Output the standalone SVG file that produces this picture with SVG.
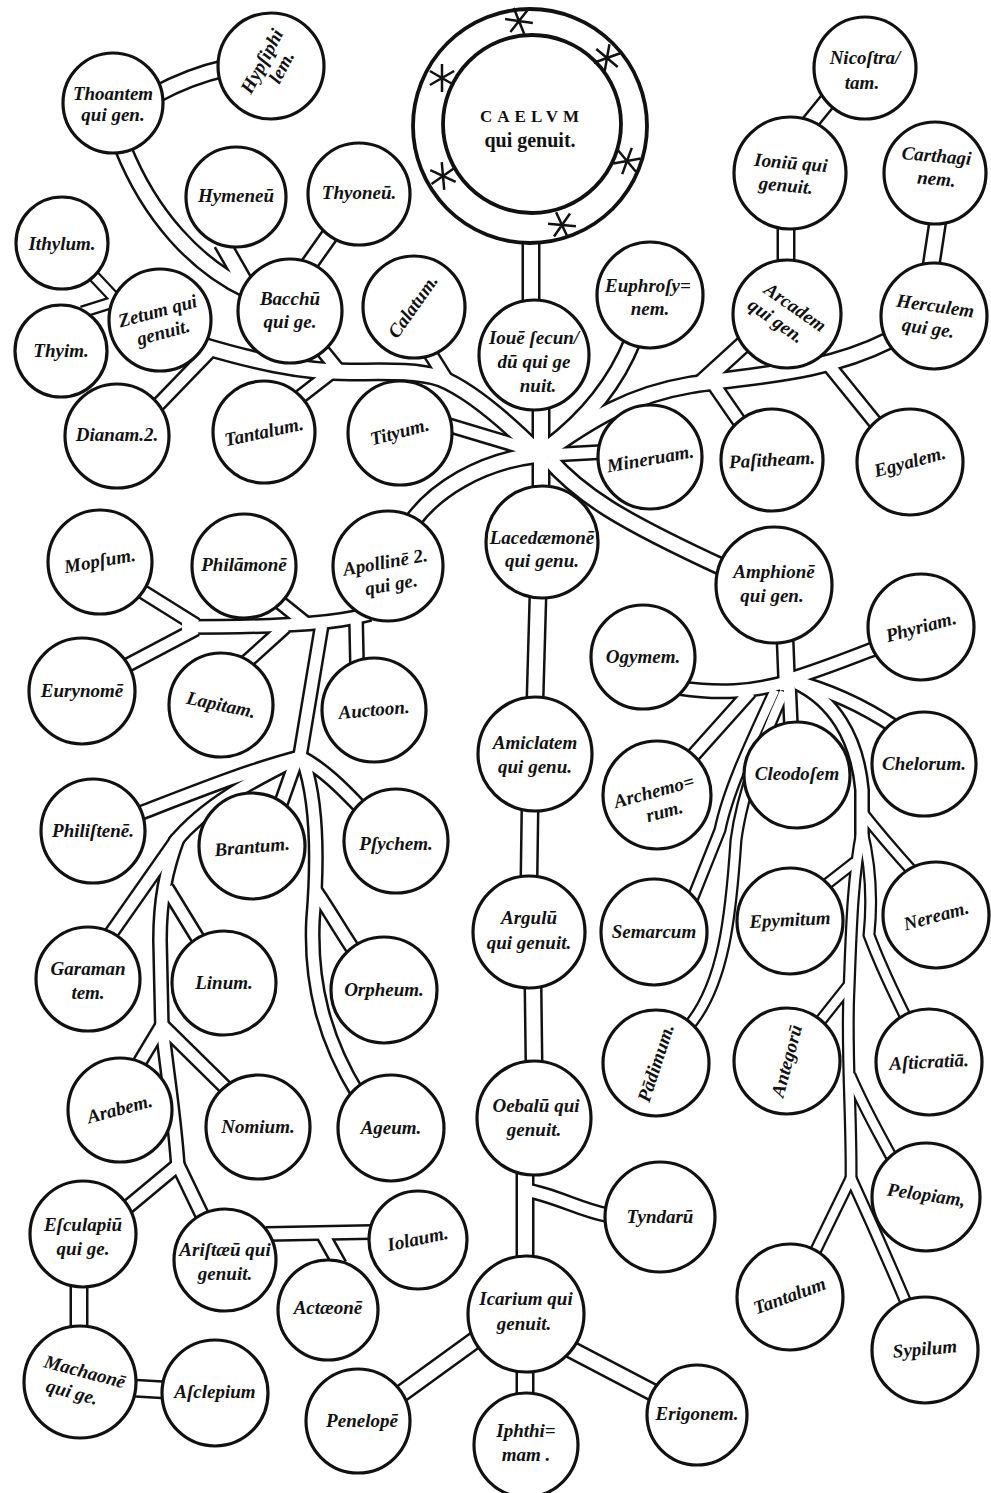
<svg xmlns="http://www.w3.org/2000/svg" width="991" height="1493" viewBox="0 0 991 1493">
<style>
.c{fill:#fff;stroke:#111;stroke-width:3.2}
.cc{fill:#fff;stroke:#111;stroke-width:3.8}
.oN{fill:none;stroke:#111;stroke-width:19}
.iN{fill:none;stroke:#fff;stroke-width:14}
.oM{fill:none;stroke:#111;stroke-width:16}
.iM{fill:none;stroke:#fff;stroke-width:11}
.oT{fill:none;stroke:#111;stroke-width:13}
.iT{fill:none;stroke:#fff;stroke-width:8.5}
.star{fill:none;stroke:#111;stroke-width:2.5}
.t{font-family:"Liberation Serif","DejaVu Serif",serif;font-style:italic;font-weight:bold;font-size:19px;text-anchor:middle;fill:#111}
.r{font-family:"Liberation Serif","DejaVu Serif",serif;font-weight:bold;text-anchor:middle;fill:#111}
</style>
<defs>
<g id="tN">
<path d="M155 95 Q190 76 226 68"/>
<path d="M531 238 L531 305"/>
<path d="M808 125 L830 98"/>
<path d="M786 226 L786 264"/>
<path d="M938 220 L931 266"/>
<path d="M541 405 L541 492"/>
<path d="M200 345 C250 360 300 372 350 372 C380 372 415 370 440 378 C470 390 505 420 540 455"/>
<path d="M123 148 C150 215 195 265 248 290"/>
<path d="M222 243 L250 292"/>
<path d="M332 232 L308 266"/>
<path d="M633 340 C615 385 585 420 548 448"/>
<path d="M545 452 C590 420 630 395 690 385 C750 375 820 375 890 340"/>
<path d="M746 342 L700 384"/>
<path d="M548 458 C580 495 620 520 724 568"/>
<path d="M412 522 C435 490 480 462 535 455"/>
<path d="M538 594 L535 700"/>
<path d="M530 808 L529 878"/>
<path d="M533 985 L534 1065"/>
<path d="M525 1172 L525 1260"/>
<path d="M478 1338 L398 1396"/>
<path d="M525 1366 L525 1396"/>
<path d="M568 1348 L654 1393"/>
<path d="M79 1283 L79 1328"/>
<path d="M132 1388 L166 1390"/>
<path d="M785 638 L787 690"/>
</g>
<g id="tM">
<path d="M318 345 L340 372"/>
<path d="M296 400 L332 372"/>
<path d="M155 408 L212 349"/>
<path d="M428 350 L448 382"/>
<path d="M448 425 L538 452"/>
<path d="M712 382 L741 424"/>
<path d="M827 363 L878 426"/>
<path d="M548 455 L602 452"/>
<path d="M525 1190 C555 1195 580 1210 607 1215"/>
<path d="M370 614 C340 622 300 627 182 627"/>
<path d="M140 590 L196 625"/>
<path d="M124 667 L196 629"/>
<path d="M277 600 L308 625"/>
<path d="M244 664 L285 627"/>
<path d="M356 618 L357 665"/>
<path d="M322 624 L299 762"/>
<path d="M300 757 C250 770 200 790 138 814"/>
<path d="M300 757 C250 782 205 805 174 843"/>
<path d="M178 838 L110 935"/>
<path d="M178 838 C166 870 160 900 160 940 L162 1030"/>
<path d="M167 888 L200 942"/>
<path d="M162 1025 L138 1065"/>
<path d="M162 1025 L228 1090"/>
<path d="M162 1025 C168 1080 175 1120 178 1168"/>
<path d="M178 1165 L124 1210"/>
<path d="M178 1165 L203 1217"/>
<path d="M266 1234 L372 1232"/>
<path d="M322 1233 L340 1265"/>
<path d="M297 758 L280 806"/>
<path d="M300 757 C322 768 342 788 361 808"/>
<path d="M302 757 C318 800 318 860 313 920 C310 985 325 1040 358 1094"/>
<path d="M315 890 C326 905 340 930 355 952"/>
<path d="M787 680 C820 670 845 660 876 648"/>
<path d="M787 682 C750 692 720 694 680 688"/>
<path d="M750 692 L690 759"/>
<path d="M789 682 L791 726"/>
<path d="M790 680 C830 690 862 705 895 727"/>
<path d="M797 683 C832 700 857 735 862 790 L862 838"/>
</g>
<g id="tT">
<path d="M90 272 L120 304"/>
<path d="M82 312 L120 300"/>
<path d="M775 690 C752 740 728 790 720 830 L692 900"/>
<path d="M784 692 C760 745 742 795 736 840 C731 915 724 985 688 1027"/>
<path d="M862 830 C852 880 851 940 849 990 C846 1050 852 1120 851 1182"/>
<path d="M862 830 C872 870 872 905 869 935 C882 970 895 995 907 1020"/>
<path d="M855 862 L823 887"/>
<path d="M849 985 L818 1024"/>
<path d="M862 812 C880 835 895 852 913 872"/>
<path d="M850 1075 C865 1110 880 1135 893 1160"/>
<path d="M851 1178 L814 1254"/>
<path d="M851 1178 C868 1215 888 1260 907 1305"/>
</g>
<path id="star" d="M-14 0H14M-7 -12.1L7 12.1M-7 12.1L7 -12.1"/>
</defs>
<rect width="991" height="1493" fill="#fff"/>
<g id="connectors">
<use href="#tN" class="oN"/>
<use href="#tM" class="oM"/>
<use href="#tT" class="oT"/>
<use href="#tN" class="iN"/>
<use href="#tM" class="iM"/>
<use href="#tT" class="iT"/>
</g>
<g id="n-caelum">
<circle class="cc" cx="530" cy="126" r="117"/>
<circle class="cc" cx="532" cy="124" r="89"/>
<use href="#star" class="star" transform="translate(519 21) rotate(8)"/>
<use href="#star" class="star" transform="translate(607 58) rotate(-20)"/>
<use href="#star" class="star" transform="translate(442 78) rotate(30)"/>
<use href="#star" class="star" transform="translate(627 161) rotate(-10)"/>
<use href="#star" class="star" transform="translate(443 176) rotate(25)"/>
<use href="#star" class="star" transform="translate(562 225) rotate(5)"/>
<text class="r" x="532" y="122" font-size="17" letter-spacing="5">CAELVM</text>
<text class="r" x="530" y="147" font-size="20" font-weight="normal">qui genuit.</text>
</g>
<g id="n-hypsiphile"><circle class="c" cx="271" cy="66" r="53"/><text class="t" transform="rotate(-62 271 66)"><tspan x="271" y="62">Hypſiphi</tspan><tspan x="275" y="82">lem.</tspan></text></g>
<g id="n-thoantem"><circle class="c" cx="113" cy="103" r="50"/><text class="t"><tspan x="113" y="100">Thoantem</tspan><tspan x="113" y="121">qui gen.</tspan></text></g>
<g id="n-hymeneus"><circle class="c" cx="236" cy="197" r="50"/><text class="t" x="236" y="202">Hymeneū</text></g>
<g id="n-thyoneus"><circle class="c" cx="359" cy="194" r="51"/><text class="t" x="359" y="199">Thyoneū.</text></g>
<g id="n-ithylus"><circle class="c" cx="62" cy="243" r="46"/><text class="t" x="62" y="250">Ithylum.</text></g>
<g id="n-thyim"><circle class="c" cx="61" cy="351" r="46"/><text class="t" x="61" y="357">Thyim.</text></g>
<g id="n-zetus"><circle class="c" cx="160" cy="320" r="51"/><text class="t" transform="rotate(-15 160 320)"><tspan x="160" y="317">Zetum qui</tspan><tspan x="160" y="339">genuit.</tspan></text></g>
<g id="n-bacchus"><circle class="c" cx="290" cy="311" r="52"/><text class="t"><tspan x="290" y="305">Bacchū</tspan><tspan x="290" y="328">qui ge.</tspan></text></g>
<g id="n-diana"><circle class="c" cx="117" cy="436" r="52"/><text class="t" x="117" y="441">Dianam.2.</text></g>
<g id="n-tantalus1"><circle class="c" cx="264" cy="432" r="51"/><text class="t" x="264" y="438" transform="rotate(-12 264 432)">Tantalum.</text></g>
<g id="n-calatus"><circle class="c" cx="414" cy="307" r="51"/><text class="t" x="414" y="312" transform="rotate(-55 414 307)">Calatum.</text></g>
<g id="n-tityus"><circle class="c" cx="400" cy="433" r="52"/><text class="t" x="400" y="438" transform="rotate(-15 400 433)">Tityum.</text></g>
<g id="n-ioue"><circle class="c" cx="534" cy="355" r="55"/><text class="t"><tspan x="534" y="344">Iouē ſecun/</tspan><tspan x="534" y="368">dū qui ge</tspan><tspan x="538" y="392">nuit.</tspan></text></g>
<g id="n-euphrosyne"><circle class="c" cx="650" cy="295" r="53"/><text class="t"><tspan x="648" y="292">Euphroſy=</tspan><tspan x="650" y="315">nem.</tspan></text></g>
<g id="n-nicostrata"><circle class="c" cx="865" cy="68" r="51"/><text class="t"><tspan x="865" y="64">Nicoſtra/</tspan><tspan x="862" y="89">tam.</tspan></text></g>
<g id="n-ionius"><circle class="c" cx="790" cy="173" r="56"/><text class="t" transform="rotate(5 790 173)"><tspan x="790" y="169">Ioniū qui</tspan><tspan x="787" y="192">genuit.</tspan></text></g>
<g id="n-carthago"><circle class="c" cx="935" cy="173" r="51"/><text class="t" transform="rotate(5 935 173)"><tspan x="935" y="162">Carthagi</tspan><tspan x="937" y="185">nem.</tspan></text></g>
<g id="n-arcas"><circle class="c" cx="787" cy="314" r="54"/><text class="t" transform="rotate(35 787 314)"><tspan x="790" y="310">Arcadem</tspan><tspan x="782" y="332">qui gen.</tspan></text></g>
<g id="n-hercules"><circle class="c" cx="934" cy="316" r="53"/><text class="t" transform="rotate(8 934 316)"><tspan x="934" y="312">Herculem</tspan><tspan x="930" y="335">qui ge.</tspan></text></g>
<g id="n-minerua"><circle class="c" cx="650" cy="457" r="52"/><text class="t" x="650" y="465" transform="rotate(-10 650 457)">Mineruam.</text></g>
<g id="n-pasithea"><circle class="c" cx="772" cy="460" r="51"/><text class="t" x="772" y="466" transform="rotate(-3 772 460)">Paſitheam.</text></g>
<g id="n-egyale"><circle class="c" cx="910" cy="462" r="53"/><text class="t" x="910" y="468" transform="rotate(-15 910 462)">Egyalem.</text></g>
<g id="n-lacedaemon"><circle class="c" cx="542" cy="542" r="56"/><text class="t"><tspan x="542" y="544">Lacedæmonē</tspan><tspan x="542" y="567">qui genu.</tspan></text></g>
<g id="n-apollo"><circle class="c" cx="388" cy="566" r="55"/><text class="t" transform="rotate(-10 388 566)"><tspan x="386" y="568">Apollinē 2.</tspan><tspan x="388" y="591">qui ge.</tspan></text></g>
<g id="n-mopsus"><circle class="c" cx="100" cy="562" r="52"/><text class="t" x="100" y="567" transform="rotate(-10 100 562)">Mopſum.</text></g>
<g id="n-philammon"><circle class="c" cx="244" cy="566" r="52"/><text class="t" x="244" y="571">Philāmonē</text></g>
<g id="n-eurynome"><circle class="c" cx="82" cy="691" r="53"/><text class="t" x="82" y="697">Eurynomē</text></g>
<g id="n-lapitha"><circle class="c" cx="221" cy="705" r="52"/><text class="t" x="221" y="711" transform="rotate(12 221 705)">Lapitam.</text></g>
<g id="n-auctoon"><circle class="c" cx="374" cy="710" r="52"/><text class="t" x="374" y="716" transform="rotate(-5 374 710)">Auctoon.</text></g>
<g id="n-amphion"><circle class="c" cx="774" cy="585" r="58"/><text class="t"><tspan x="774" y="578">Amphionē</tspan><tspan x="772" y="602">qui gen.</tspan></text></g>
<g id="n-phyria"><circle class="c" cx="921" cy="627" r="53"/><text class="t" x="921" y="633" transform="rotate(-15 921 627)">Phyriam.</text></g>
<g id="n-ogyges"><circle class="c" cx="643" cy="657" r="52"/><text class="t" x="643" y="663">Ogymem.</text></g>
<g id="n-amiclas"><circle class="c" cx="535" cy="754" r="57"/><text class="t"><tspan x="535" y="749">Amiclatem</tspan><tspan x="535" y="773">qui genu.</tspan></text></g>
<g id="n-archemorus"><circle class="c" cx="657" cy="795" r="54"/><text class="t" transform="rotate(-15 657 795)"><tspan x="655" y="797">Archemo=</tspan><tspan x="660" y="819">rum.</tspan></text></g>
<g id="n-cleodose"><circle class="c" cx="797" cy="775" r="53"/><text class="t" x="797" y="780">Cleodoſem</text></g>
<g id="n-chelorus"><circle class="c" cx="924" cy="764" r="52"/><text class="t" x="924" y="770">Chelorum.</text></g>
<g id="n-philistene"><circle class="c" cx="93" cy="831" r="52"/><text class="t" x="93" y="837">Philiſtenē.</text></g>
<g id="n-brantus"><circle class="c" cx="252" cy="846" r="53"/><text class="t" x="252" y="853" transform="rotate(-5 252 846)">Brantum.</text></g>
<g id="n-psyche"><circle class="c" cx="396" cy="841" r="52"/><text class="t" x="396" y="850">Pſychem.</text></g>
<g id="n-garamas"><circle class="c" cx="88" cy="979" r="52"/><text class="t"><tspan x="88" y="975">Garaman</tspan><tspan x="88" y="999">tem.</tspan></text></g>
<g id="n-linus"><circle class="c" cx="224" cy="983" r="52"/><text class="t" x="224" y="989">Linum.</text></g>
<g id="n-orpheus"><circle class="c" cx="384" cy="990" r="53"/><text class="t" x="384" y="996">Orpheum.</text></g>
<g id="n-argulus"><circle class="c" cx="529" cy="932" r="56"/><text class="t"><tspan x="529" y="924">Argulū</tspan><tspan x="529" y="949">qui genuit.</tspan></text></g>
<g id="n-semarcus"><circle class="c" cx="654" cy="932" r="53"/><text class="t" x="654" y="938">Semarcum</text></g>
<g id="n-epymitus"><circle class="c" cx="790" cy="921" r="53"/><text class="t" x="790" y="926" transform="rotate(-3 790 921)">Epymitum</text></g>
<g id="n-nereus"><circle class="c" cx="936" cy="915" r="53"/><text class="t" x="936" y="922" transform="rotate(-15 936 915)">Neream.</text></g>
<g id="n-padimus"><circle class="c" cx="656" cy="1063" r="53"/><text class="t" x="656" y="1069" transform="rotate(-72 656 1063)">Pādimum.</text></g>
<g id="n-antegorus"><circle class="c" cx="787" cy="1061" r="53"/><text class="t" x="787" y="1067" transform="rotate(-75 787 1061)">Antegorū</text></g>
<g id="n-asticratia"><circle class="c" cx="929" cy="1062" r="53"/><text class="t" x="929" y="1068" transform="rotate(-3 929 1062)">Aſticratiā.</text></g>
<g id="n-arabs"><circle class="c" cx="120" cy="1110" r="52"/><text class="t" x="120" y="1115" transform="rotate(-15 120 1110)">Arabem.</text></g>
<g id="n-nomius"><circle class="c" cx="258" cy="1127" r="52"/><text class="t" x="258" y="1133">Nomium.</text></g>
<g id="n-ageus"><circle class="c" cx="391" cy="1128" r="53"/><text class="t" x="391" y="1134">Ageum.</text></g>
<g id="n-oebalus"><circle class="c" cx="534" cy="1118" r="57"/><text class="t"><tspan x="536" y="1112">Oebalū qui</tspan><tspan x="534" y="1136">genuit.</tspan></text></g>
<g id="n-tyndareus"><circle class="c" cx="660" cy="1217" r="55"/><text class="t" x="660" y="1223">Tyndarū</text></g>
<g id="n-pelopia"><circle class="c" cx="926" cy="1197" r="54"/><text class="t" x="926" y="1201" transform="rotate(8 926 1197)">Pelopiam,</text></g>
<g id="n-esculapius"><circle class="c" cx="83" cy="1234" r="53"/><text class="t"><tspan x="83" y="1231">Eſculapiū</tspan><tspan x="83" y="1255">qui ge.</tspan></text></g>
<g id="n-aristaeus"><circle class="c" cx="225" cy="1260" r="51"/><text class="t"><tspan x="225" y="1256">Ariſtæū qui</tspan><tspan x="225" y="1280">genuit.</tspan></text></g>
<g id="n-iolaus"><circle class="c" cx="418" cy="1240" r="49"/><text class="t" x="418" y="1245" transform="rotate(-12 418 1240)">Iolaum.</text></g>
<g id="n-actaeon"><circle class="c" cx="328" cy="1310" r="50"/><text class="t" x="328" y="1314">Actæonē</text></g>
<g id="n-icarius"><circle class="c" cx="526" cy="1314" r="58"/><text class="t"><tspan x="526" y="1305">Icarium qui</tspan><tspan x="524" y="1330">genuit.</tspan></text></g>
<g id="n-tantalus2"><circle class="c" cx="790" cy="1297" r="53"/><text class="t" x="790" y="1302" transform="rotate(-20 790 1297)">Tantalum</text></g>
<g id="n-sypilus"><circle class="c" cx="925" cy="1350" r="53"/><text class="t" x="925" y="1355" transform="rotate(-5 925 1350)">Sypilum</text></g>
<g id="n-machaon"><circle class="c" cx="80" cy="1382" r="56"/><text class="t" transform="rotate(15 80 1382)"><tspan x="82" y="1377">Machaonē</tspan><tspan x="75" y="1400">qui ge.</tspan></text></g>
<g id="n-asclepius"><circle class="c" cx="215" cy="1393" r="53"/><text class="t" x="215" y="1398">Aſclepium</text></g>
<g id="n-penelope"><circle class="c" cx="358" cy="1421" r="52"/><text class="t" x="362" y="1427">Penelopē</text></g>
<g id="n-iphthima"><circle class="c" cx="526" cy="1445" r="52"/><text class="t"><tspan x="526" y="1437">Iphthi=</tspan><tspan x="526" y="1461">mam .</tspan></text></g>
<g id="n-erigone"><circle class="c" cx="697" cy="1415" r="50"/><text class="t" x="697" y="1420">Erigonem.</text></g>
</svg>
